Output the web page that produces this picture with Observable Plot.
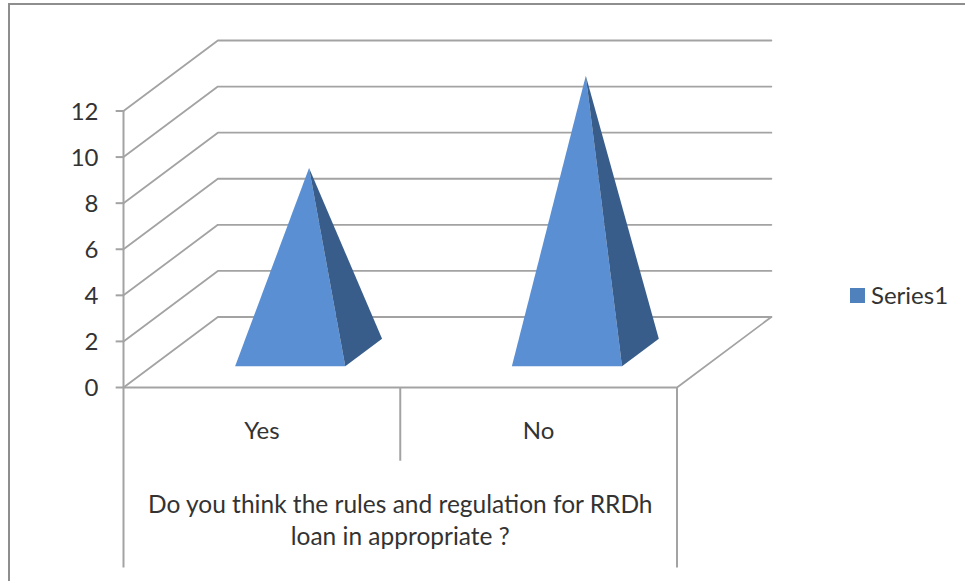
<!DOCTYPE html>
<html>
<head>
<meta charset="utf-8">
<script src="https://cdn.jsdelivr.net/npm/d3@7"></script>
<script src="https://cdn.jsdelivr.net/npm/@observablehq/plot@0.6"></script>
<style>
  html, body { margin: 0; padding: 0; background: #fff; overflow: hidden; }
  #chart { position: relative; width: 965px; height: 581px; overflow: hidden; font-family: Lato, sans-serif; color: #333; }
  #chart svg { position: absolute; left: 0; top: 0; background: transparent; }
  #border { position: absolute; left: 8px; top: 3px; width: 980px; height: 600px; border: 2px solid #8e8e8e; }
  #legend { position: absolute; left: 850px; top: 279px; display: flex; align-items: center; gap: 6px; font-size: 24px; line-height: 32px; }
  #legend i { display: block; width: 15px; height: 15px; background: #4f81bd; }
</style>
</head>
<body>
<div id="chart">
  <div id="border"></div>
  <div id="legend"><i></i><span>Series1</span></div>
</div>
<script>
// Survey answers and the count for each one
const categories = ["Yes", "No"];
const seriesValues = [8, 12];
const seriesName = "Series1";
const valueTicks = [0, 2, 4, 6, 8, 10, 12];
const axisTitle = "Do you think the rules and regulation for RRDh\nloan in appropriate ?";

// Oblique projection: one unit of depth shifts a point along both axes
const depthX = 0.341;
const depthY = 3.06;
const project = (cat, value, depth) => ({x: cat + depth * depthX, y: value + depth * depthY});

// Depth band and half width occupied by a pyramid on the floor
const nearDepth = 0.3;
const farDepth = 0.69;
const halfWidth = 0.199;

// Multi-level category axis: how far each divider drops below zero
const innerDrop = -3.2;
const outerDrop = -7.83;
// Tick marks stick out to the left of the value axis by this much
const tickLength = 0.0265;

const wallLines = valueTicks.flatMap(v => [
  {v, ...project(0, v, 0)},
  {v, ...project(0, v, 1)},
  {v, ...project(categories.length, v, 1)}
]);
const floorEdge = [
  project(categories.length, 0, 1),
  project(categories.length, 0, 0),
  project(0, 0, 0)
];

const pyramids = categories.map((name, i) => {
  const c = i + 0.5;
  const apex = {name, ...project(c, seriesValues[i], 0.5)};
  return {
    front: [
      {name, ...project(c - halfWidth, 0, nearDepth)},
      {name, ...project(c + halfWidth, 0, nearDepth)},
      apex
    ],
    side: [
      {name, ...project(c + halfWidth, 0, nearDepth)},
      {name, ...project(c + halfWidth, 0, farDepth)},
      apex
    ]
  };
});

const gridColor = "#a3a3a3";
const inkColor = "#333";

const plot = Plot.plot({
  width: 965,
  height: 581,
  marginLeft: 123,
  marginRight: 288.5,
  marginTop: 110.5,
  marginBottom: 194,
  style: {fontFamily: "Lato, sans-serif", background: "transparent"},
  x: {domain: [0, categories.length], axis: null},
  y: {domain: [0, 12], axis: null},
  marks: [
    // Back wall, side wall and floor outline
    Plot.line(wallLines, {x: "x", y: "y", z: "v", stroke: gridColor, strokeWidth: 1.8}),
    Plot.line(floorEdge, {x: "x", y: "y", stroke: gridColor, strokeWidth: 1.8}),

    // Value axis: line, tick marks, then their labels
    Plot.ruleX([0], {y1: outerDrop, y2: 12, stroke: gridColor, strokeWidth: 2}),
    Plot.ruleY(valueTicks, {x1: -tickLength, x2: 0, stroke: gridColor, strokeWidth: 2}),
    Plot.text(valueTicks, {
      x: () => 0,
      y: d => d,
      text: d => String(d),
      dx: -25,
      dy: 1,
      textAnchor: "end",
      fontSize: 24,
      fill: inkColor
    }),

    // Category dividers
    Plot.ruleX([1], {y1: innerDrop, y2: 0, stroke: gridColor, strokeWidth: 2}),
    Plot.ruleX([categories.length], {y1: outerDrop, y2: 0, stroke: gridColor, strokeWidth: 2}),

    // Pyramids
    Plot.line(pyramids.flatMap(p => p.front), {x: "x", y: "y", z: "name", fill: "#5a8fd3", stroke: null}),
    Plot.line(pyramids.flatMap(p => p.side), {x: "x", y: "y", z: "name", fill: "#385d8a", stroke: null}),

    // Category labels and the question underneath them
    Plot.text(categories, {
      x: (d, i) => i + 0.5,
      y: () => 0,
      dy: 44,
      text: d => d,
      fontSize: 24,
      fill: inkColor
    }),
    Plot.text([axisTitle], {
      x: () => categories.length / 2,
      y: () => 0,
      dy: 131,
      text: d => d,
      fontSize: 24.5,
      lineHeight: 1.31,
      fill: inkColor
    })
  ]
});
document.getElementById("chart").appendChild(plot);
document.querySelector("#legend span").textContent = seriesName;
</script>
</body>
</html>
